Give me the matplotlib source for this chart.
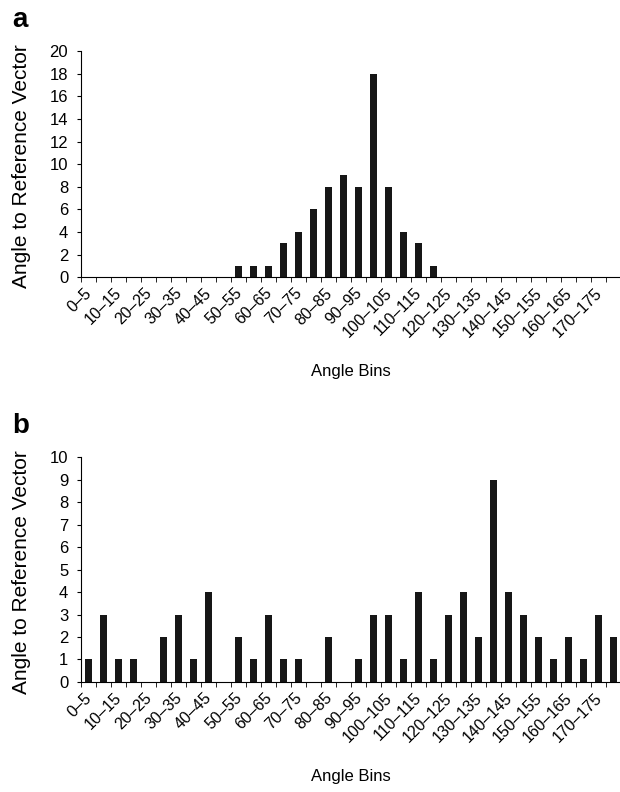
import numpy as np
import matplotlib
matplotlib.use("Agg")
import matplotlib.pyplot as plt

plt.rcParams['font.family'] = ['Liberation Sans', 'DejaVu Sans']

# 36 bins of 5 degrees, every other one labelled
bin_starts = list(range(0, 180, 5))
tick_labels = ["%d\u2013%d" % (s, s + 5) for s in bin_starts[::2]]

# counts
counts_a = [0, 0, 0, 0, 0, 0, 0, 0, 0, 0,
            1, 1, 1, 3, 4, 6, 8, 9, 8, 18,
            8, 4, 3, 1, 0, 0, 0, 0, 0, 0,
            0, 0, 0, 0, 0, 0]
counts_b = [1, 3, 1, 1, 0, 2, 3, 1, 4, 0,
            2, 1, 3, 1, 1, 0, 2, 0, 1, 3,
            3, 1, 4, 1, 3, 4, 2, 9, 4, 3,
            2, 1, 2, 1, 3, 2]

fig = plt.figure(figsize=(6.2, 7.92), dpi=100)

def panel(rect, counts, ymax, ystep, letter):
    ax = fig.add_axes(rect)
    x = np.arange(len(counts))
    ax.bar(x, counts, width=0.52, color="#161616")
    ax.set_xlim(-0.5, len(counts) - 0.5)
    ax.set_ylim(0, ymax)
    ax.set_yticks(np.arange(0, ymax + 1, ystep))
    ax.set_xticks(np.arange(-0.5, len(counts), 1), minor=True)
    ax.set_xticks(x[::2] - 0.3)
    ax.set_xticklabels(tick_labels, rotation=45, ha="right",
                       rotation_mode="anchor", fontsize=11.5)
    ax.tick_params(axis="x", which="major", length=0, pad=6)
    ax.tick_params(axis="x", which="minor", length=3.5, direction="out")
    ax.tick_params(axis="y", length=3.2, labelsize=12, pad=6)
    for s in ["top", "right"]:
        ax.spines[s].set_visible(False)
    ax.set_ylabel("Angle to Reference Vector", fontsize=15)
    ax.yaxis.set_label_coords(-0.093, 0.49)
    ax.set_xlabel("Angle Bins", fontsize=12, labelpad=17)
    fig.text(0.02, rect[1] + rect[3] + 0.03, letter, fontsize=20,
             fontweight="bold")
    return ax

panel([0.1306, 0.650, 0.871, 0.2854], counts_a, 20, 2, "a")
panel([0.1306, 0.1389, 0.871, 0.284], counts_b, 10, 1, "b")

fig.savefig("out.png", dpi=100)
